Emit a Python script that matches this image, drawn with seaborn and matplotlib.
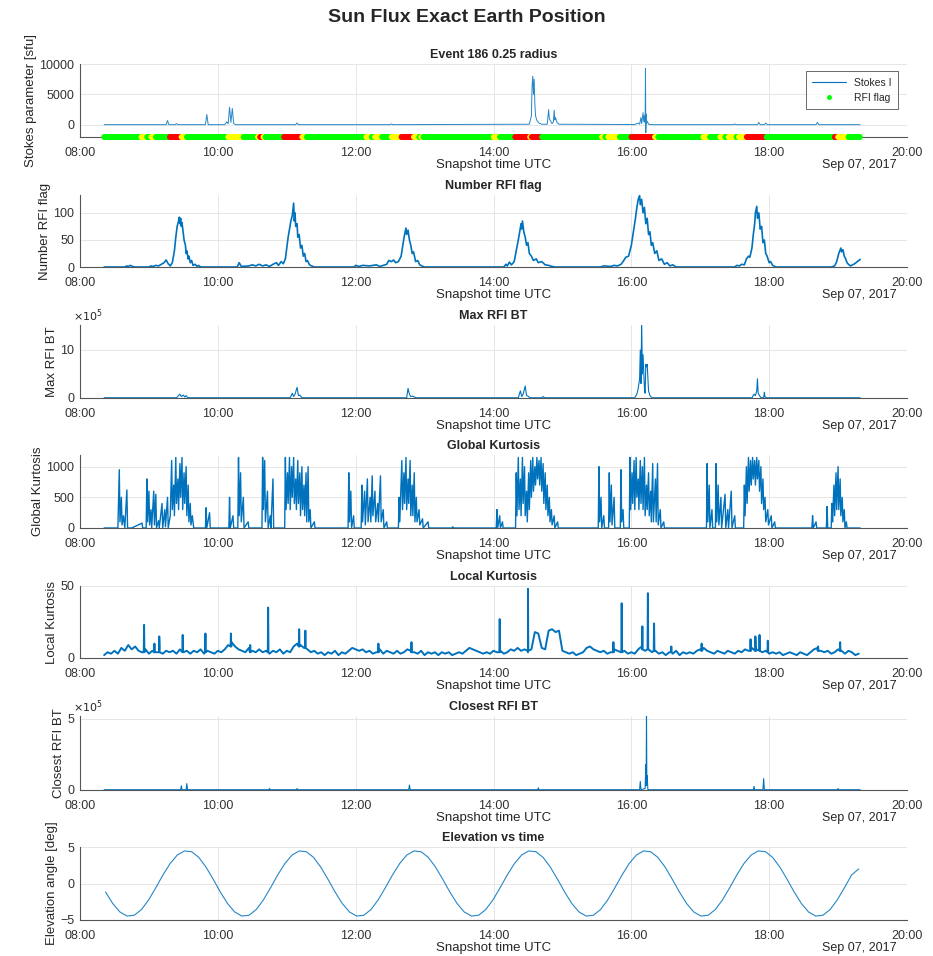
import numpy as np
import seaborn as sns
import matplotlib
matplotlib.use('Agg')
import matplotlib.pyplot as plt
from matplotlib.lines import Line2D

# time is in decimal hours UTC, Sep 07 2017
hour_ticks = [8, 10, 12, 14, 16, 18, 20]
hour_labels = ['08:00', '10:00', '12:00', '14:00', '16:00', '18:00', '20:00']

# Stokes I [sfu]
stokes = [(8.35, 30), (9.25, 30), (9.27, 700), (9.29, 30), (9.38, 30), (9.40, 200), (9.42, 30),
          (9.82, 30), (9.84, 1700), (9.86, 30), (10.10, 30), (10.13, 500), (10.15, 150), (10.17, 2900),
          (10.19, 400), (10.21, 2700), (10.23, 200), (10.26, 30), (11.13, 30), (11.15, 300), (11.17, 30),
          (12.50, 30), (12.52, 150), (12.54, 30), (14.52, 100), (14.55, 1500), (14.56, 6500), (14.57, 8000),
          (14.58, 5000), (14.59, 7500), (14.60, 3500), (14.61, 1500), (14.63, 700), (14.66, 300), (14.70, 100),
          (14.78, 100), (14.80, 2500), (14.81, 1000), (14.83, 600), (14.85, 200), (14.87, 500), (14.88, 2400),
          (14.89, 800), (14.90, 1200), (14.92, 400), (14.95, 100), (16.05, 50), (16.10, 300), (16.12, 100),
          (16.14, 1200), (16.15, 200), (16.17, 2000), (16.18, 500), (16.19, 1500), (16.20, 400), (16.205, 9300),
          (16.21, -1300), (16.215, 1800), (16.22, 300), (16.23, 600), (16.25, 100), (16.30, 30), (17.48, 30),
          (17.50, 150), (17.52, 30), (17.83, 30), (17.85, 400), (17.87, 30), (17.93, 30), (17.95, 300),
          (17.97, 30), (18.68, 30), (18.70, 400), (18.72, 30), (19.32, 30)]

# RFI flag segments (0 green elsewhere, 1 yellow, 2 red)
flag_seg_start = [8.89, 9.03, 9.30, 9.47, 10.15, 10.58, 10.61, 10.66, 10.96, 11.22, 12.15, 12.28, 12.52,
                  12.66, 12.84, 12.95, 14.00, 14.31, 14.53, 14.55, 15.57, 15.66, 16.00, 16.34, 17.04,
                  17.29, 17.41, 17.56, 17.67, 18.95, 19.00]
flag_seg_end = [8.97, 9.10, 9.47, 9.55, 10.37, 10.61, 10.66, 10.69, 11.22, 11.29, 12.23, 12.38, 12.66,
                12.84, 12.92, 12.98, 14.09, 14.53, 14.55, 14.70, 15.62, 15.83, 16.34, 16.39, 17.14,
                17.36, 17.52, 17.67, 17.96, 19.00, 19.15]
flag_seg_level = [1, 1, 2, 1, 1, 1, 2, 1, 2, 1, 1, 1, 1, 2, 1, 1, 1, 2, 1, 2, 1, 1, 2, 1, 1, 1, 1, 1, 2, 2, 1]

# Number of RFI flags
n_rfi = [(8.35, 0), (8.65, 0), (8.68, 2), (8.70, 1), (8.73, 3), (8.76, 1), (8.80, 0), (9.00, 0), (9.03, 2),
         (9.06, 1), (9.10, 3), (9.14, 2), (9.18, 5), (9.22, 8), (9.25, 13), (9.28, 6), (9.31, 2), (9.34, 8),
         (9.37, 30), (9.39, 55), (9.41, 75), (9.43, 85), (9.44, 92), (9.45, 80), (9.46, 90), (9.47, 75),
         (9.48, 82), (9.50, 60), (9.51, 50), (9.53, 40), (9.54, 25), (9.55, 30), (9.57, 15), (9.58, 20),
         (9.60, 8), (9.62, 12), (9.64, 3), (9.67, 5), (9.70, 1), (9.72, 3), (9.75, 0), (10.28, 0), (10.31, 8),
         (10.34, 1), (10.45, 2), (10.50, 4), (10.55, 2), (10.60, 5), (10.65, 2), (10.70, 4), (10.75, 1),
         (10.80, 5), (10.85, 8), (10.88, 3), (10.92, 10), (10.95, 6), (10.98, 15), (11.00, 35), (11.02, 55),
         (11.04, 70), (11.06, 85), (11.08, 95), (11.10, 118), (11.11, 85), (11.12, 100), (11.13, 75),
         (11.15, 80), (11.16, 55), (11.18, 60), (11.20, 35), (11.22, 40), (11.24, 20), (11.26, 25),
         (11.28, 10), (11.30, 12), (11.33, 4), (11.36, 2), (11.40, 0), (11.98, 0), (12.00, 3), (12.05, 1),
         (12.10, 3), (12.20, 2), (12.30, 4), (12.35, 1), (12.40, 3), (12.45, 5), (12.48, 12), (12.52, 10),
         (12.55, 13), (12.58, 8), (12.62, 10), (12.66, 20), (12.69, 45), (12.71, 60), (12.73, 72),
         (12.74, 60), (12.76, 68), (12.78, 50), (12.80, 40), (12.82, 25), (12.84, 28), (12.87, 10),
         (12.90, 12), (12.93, 4), (12.96, 2), (13.00, 0), (14.15, 0), (14.18, 5), (14.20, 2), (14.23, 9),
         (14.26, 4), (14.30, 10), (14.33, 30), (14.36, 50), (14.38, 65), (14.40, 80), (14.41, 70),
         (14.42, 85), (14.44, 65), (14.46, 55), (14.48, 40), (14.50, 45), (14.52, 25), (14.55, 20),
         (14.58, 12), (14.62, 15), (14.65, 8), (14.70, 10), (14.75, 4), (14.80, 3), (14.85, 1), (14.90, 0),
         (15.55, 0), (15.60, 2), (15.70, 1), (15.75, 3), (15.80, 2), (15.85, 5), (15.88, 10), (15.92, 18),
         (15.96, 20), (16.00, 40), (16.03, 65), (16.06, 90), (16.08, 110), (16.10, 125), (16.12, 132),
         (16.13, 115), (16.15, 125), (16.17, 100), (16.19, 110), (16.21, 80), (16.23, 90), (16.25, 60),
         (16.27, 65), (16.29, 40), (16.31, 45), (16.34, 25), (16.37, 30), (16.40, 12), (16.44, 15),
         (16.48, 5), (16.52, 8), (16.56, 2), (16.60, 4), (16.65, 0), (17.50, 0), (17.53, 3), (17.57, 2),
         (17.60, 5), (17.64, 4), (17.67, 15), (17.70, 20), (17.72, 18), (17.75, 35), (17.77, 60),
         (17.79, 80), (17.80, 100), (17.82, 112), (17.83, 90), (17.85, 100), (17.87, 70), (17.89, 75),
         (17.91, 45), (17.93, 50), (17.95, 25), (17.97, 20), (18.00, 8), (18.02, 10), (18.05, 3), (18.10, 0),
         (18.90, 0), (18.95, 2), (18.98, 10), (19.01, 25), (19.04, 35), (19.05, 28), (19.07, 32), (19.09, 20),
         (19.11, 15), (19.13, 8), (19.15, 5), (19.18, 2), (19.21, 4), (19.24, 6), (19.27, 9), (19.30, 12),
         (19.32, 14)]

# Max RFI BT, in units of 1e5
max_bt = [(8.35, 0.05), (9.40, 0.05), (9.43, 0.5), (9.45, 0.8), (9.47, 0.3), (9.50, 0.6), (9.52, 0.2),
          (9.54, 0.5), (9.56, 0.1), (9.58, 0.05), (11.05, 0.05), (11.08, 1.0), (11.10, 0.3), (11.12, 0.8),
          (11.15, 2.2), (11.17, 0.5), (11.19, 0.6), (11.22, 0.05), (12.74, 0.05), (12.76, 2.0), (12.78, 0.8),
          (12.80, 0.3), (12.83, 0.4), (12.85, 0.2), (12.88, 0.05), (14.36, 0.05), (14.39, 1.5), (14.41, 0.3),
          (14.43, 0.8), (14.46, 2.5), (14.48, 0.5), (14.50, 0.4), (14.53, 0.05), (14.70, 0.05), (14.72, 0.3),
          (14.74, 0.05), (16.05, 0.05), (16.08, 0.8), (16.10, 2.0), (16.12, 4.0), (16.13, 10.0), (16.14, 3.0),
          (16.15, 16.0), (16.16, 5.0), (16.17, 9.0), (16.19, 2.0), (16.20, 1.0), (16.21, 7.0), (16.22, 6.5),
          (16.23, 7.0), (16.25, 1.5), (16.27, 0.5), (16.30, 0.05), (17.75, 0.05), (17.78, 0.8), (17.80, 0.5),
          (17.82, 1.5), (17.83, 4.0), (17.84, 1.0), (17.86, 0.5), (17.88, 0.05), (17.92, 0.05), (17.93, 1.2),
          (17.94, 0.2), (17.96, 0.05), (19.32, 0.05)]

# Global kurtosis
g_kurt = [(8.35, 0), (8.55, 0), (8.57, 950), (8.58, 100), (8.60, 500), (8.61, 50), (8.63, 200), (8.65, 0),
          (8.68, 620), (8.69, 0), (8.75, 0), (8.90, 80), (8.91, 0), (8.96, 0), (8.97, 800), (8.98, 100),
          (9.00, 600), (9.01, 50), (9.03, 300), (9.04, 0), (9.07, 600), (9.08, 50), (9.10, 550), (9.11, 0),
          (9.14, 120), (9.15, 0), (9.19, 400), (9.20, 0), (9.23, 300), (9.24, 20), (9.27, 500), (9.28, 0),
          (9.31, 200), (9.33, 1100), (9.34, 300), (9.36, 700), (9.37, 200), (9.39, 1150), (9.40, 400),
          (9.42, 800), (9.43, 300), (9.45, 1050), (9.46, 500), (9.48, 1150), (9.49, 300), (9.51, 900),
          (9.52, 400), (9.54, 1000), (9.55, 200), (9.57, 700), (9.58, 100), (9.60, 400), (9.61, 50),
          (9.63, 200), (9.65, 0), (9.82, 0), (9.83, 330), (9.84, 0), (9.88, 250), (9.89, 0), (10.16, 0),
          (10.17, 500), (10.18, 0), (10.22, 200), (10.23, 0), (10.29, 0), (10.30, 1150), (10.31, 200),
          (10.33, 900), (10.34, 100), (10.37, 500), (10.38, 0), (10.44, 100), (10.45, 0), (10.64, 0),
          (10.65, 1150), (10.66, 300), (10.68, 1100), (10.69, 100), (10.72, 600), (10.73, 0), (10.76, 200),
          (10.77, 0), (10.80, 800), (10.81, 0), (10.97, 0), (10.98, 1150), (10.99, 300), (11.01, 900),
          (11.02, 400), (11.04, 1150), (11.05, 300), (11.07, 1000), (11.08, 500), (11.10, 1150), (11.11, 400),
          (11.13, 800), (11.14, 300), (11.16, 1100), (11.17, 400), (11.19, 900), (11.20, 200), (11.22, 1000),
          (11.23, 300), (11.25, 700), (11.26, 200), (11.28, 900), (11.29, 100), (11.31, 1000), (11.32, 100),
          (11.34, 300), (11.35, 0), (11.40, 100), (11.41, 0), (11.89, 0), (11.90, 900), (11.91, 100),
          (11.93, 600), (11.94, 0), (11.97, 200), (11.98, 0), (12.08, 0), (12.09, 700), (12.10, 100),
          (12.13, 600), (12.14, 50), (12.17, 800), (12.18, 100), (12.21, 500), (12.22, 100), (12.24, 850),
          (12.25, 200), (12.28, 600), (12.29, 100), (12.32, 400), (12.33, 100), (12.36, 850), (12.37, 100),
          (12.40, 300), (12.41, 0), (12.45, 100), (12.46, 0), (12.62, 0), (12.63, 500), (12.64, 100),
          (12.67, 1100), (12.68, 300), (12.70, 900), (12.71, 400), (12.73, 1150), (12.74, 300), (12.76, 800),
          (12.77, 400), (12.79, 1100), (12.80, 200), (12.82, 700), (12.83, 200), (12.85, 900), (12.86, 100),
          (12.88, 500), (12.89, 100), (12.92, 300), (12.93, 50), (12.97, 150), (12.98, 0), (13.05, 100),
          (13.06, 0), (13.40, 0), (13.41, 20), (13.42, 0), (14.04, 0), (14.05, 300), (14.06, 0), (14.09, 200),
          (14.10, 0), (14.13, 100), (14.14, 0), (14.32, 0), (14.33, 900), (14.34, 200), (14.36, 1150),
          (14.37, 300), (14.39, 800), (14.40, 200), (14.42, 1150), (14.43, 400), (14.45, 1000), (14.46, 200),
          (14.48, 600), (14.49, 100), (14.51, 900), (14.52, 300), (14.54, 1100), (14.55, 500), (14.57, 1150),
          (14.58, 600), (14.60, 1000), (14.61, 700), (14.63, 1150), (14.64, 800), (14.66, 1100), (14.67, 700),
          (14.69, 1150), (14.70, 600), (14.72, 1050), (14.73, 400), (14.75, 900), (14.76, 300), (14.78, 700),
          (14.79, 200), (14.81, 500), (14.82, 100), (14.84, 300), (14.85, 50), (14.88, 200), (14.89, 0),
          (14.93, 100), (14.94, 0), (15.52, 0), (15.53, 1000), (15.54, 100), (15.56, 500), (15.57, 0),
          (15.60, 200), (15.61, 0), (15.67, 0), (15.68, 900), (15.69, 100), (15.71, 700), (15.72, 50),
          (15.75, 500), (15.76, 0), (15.84, 0), (15.85, 950), (15.86, 100), (15.88, 300), (15.89, 0),
          (15.97, 0), (15.98, 1150), (15.99, 300), (16.01, 900), (16.02, 400), (16.04, 1100), (16.05, 300),
          (16.07, 1150), (16.08, 500), (16.10, 800), (16.11, 300), (16.13, 1100), (16.14, 400), (16.16, 1000),
          (16.17, 300), (16.19, 1150), (16.20, 200), (16.22, 700), (16.23, 300), (16.25, 900), (16.26, 200),
          (16.28, 600), (16.29, 100), (16.31, 1050), (16.32, 100), (16.35, 800), (16.36, 100), (16.38, 1050),
          (16.39, 50), (16.42, 300), (16.43, 0), (16.47, 100), (16.48, 0), (17.09, 0), (17.10, 1050),
          (17.11, 100), (17.13, 700), (17.14, 0), (17.17, 300), (17.18, 0), (17.22, 0), (17.23, 1050),
          (17.24, 100), (17.26, 700), (17.27, 50), (17.30, 500), (17.31, 0), (17.36, 550), (17.37, 0),
          (17.40, 300), (17.41, 0), (17.45, 600), (17.46, 0), (17.50, 200), (17.51, 0), (17.63, 0),
          (17.64, 700), (17.65, 200), (17.67, 1000), (17.68, 400), (17.70, 1150), (17.71, 600), (17.73, 1100),
          (17.74, 700), (17.76, 1150), (17.77, 800), (17.79, 1100), (17.80, 700), (17.82, 1150), (17.83, 800),
          (17.85, 1100), (17.86, 600), (17.88, 1000), (17.89, 400), (17.91, 800), (17.92, 300), (17.94, 500),
          (17.95, 100), (17.98, 300), (17.99, 50), (18.03, 200), (18.04, 0), (18.08, 100), (18.09, 0),
          (18.62, 0), (18.63, 200), (18.64, 0), (18.68, 100), (18.69, 0), (18.83, 0), (18.84, 350),
          (18.85, 0), (18.90, 0), (18.91, 400), (18.92, 100), (18.94, 700), (18.95, 200), (18.97, 900),
          (18.98, 300), (19.00, 1000), (19.01, 300), (19.03, 800), (19.04, 200), (19.06, 500), (19.07, 100),
          (19.09, 300), (19.10, 0), (19.12, 100), (19.13, 0), (19.32, 0)]

# Local kurtosis: background every 3 min from 08:21 to 19:18, plus narrow spikes
l_kurt_base = [2, 4, 3, 5, 3, 7, 5, 9, 6, 8, 5, 4, 6, 3, 5, 4, 6, 3, 5, 4, 5, 3, 6, 4, 5, 3, 5, 4, 6, 3,
               5, 4, 3, 5, 4, 6, 9, 11, 8, 6, 5, 4, 7, 5, 4, 6, 4, 5, 3, 5, 4, 6, 3, 5, 4, 8, 10, 9, 7, 6,
               4, 5, 3, 4, 2, 4, 3, 5, 2, 4, 3, 5, 7, 6, 5, 6, 4, 5, 3, 4, 6, 3, 5, 4, 3, 5, 3, 4, 6, 5,
               4, 3, 5, 2, 4, 3, 4, 2, 4, 3, 4, 2, 3, 4, 3, 5, 7, 6, 5, 4, 3, 4, 3, 5, 4, 5, 3, 4, 6, 5,
               7, 5, 6, 4, 6, 18, 17, 7, 6, 19, 20, 18, 19, 5, 4, 3, 4, 2, 3, 4, 7, 8, 6, 5, 4, 5, 3, 4, 6, 5,
               4, 5, 3, 4, 3, 6, 8, 5, 6, 4, 5, 3, 4, 2, 4, 3, 5, 2, 4, 3, 4, 3, 5, 6, 7, 5, 4, 3, 5, 4,
               3, 5, 4, 3, 5, 4, 6, 5, 7, 5, 6, 4, 5, 3, 4, 3, 4, 2, 3, 4, 3, 2, 4, 3, 2, 4, 6, 7, 5, 4,
               5, 3, 4, 6, 5, 3, 5, 4, 2, 3]
l_kurt_base_t = np.linspace(8.35, 19.30, len(l_kurt_base))
l_kurt_spikes = [(8.925, 4), (8.93, 23), (8.935, 4), (9.075, 4), (9.08, 10), (9.085, 4), (9.145, 4),
                 (9.15, 15), (9.155, 4), (9.485, 4), (9.49, 16), (9.495, 4), (9.815, 4), (9.82, 17),
                 (9.825, 4), (10.185, 8), (10.19, 17), (10.195, 8), (10.465, 4), (10.47, 9), (10.475, 4),
                 (10.725, 4), (10.73, 35), (10.735, 4), (11.175, 8), (11.18, 20), (11.185, 8), (11.265, 7),
                 (11.27, 19), (11.275, 7), (12.325, 4), (12.33, 10), (12.335, 4), (12.805, 4), (12.81, 11),
                 (12.815, 4), (14.085, 4), (14.09, 27), (14.095, 4), (14.495, 5), (14.50, 48), (14.505, 5),
                 (15.735, 4), (15.74, 11), (15.745, 4), (15.855, 4), (15.86, 38), (15.865, 4), (16.155, 6),
                 (16.16, 22), (16.165, 6), (16.235, 6), (16.24, 45), (16.245, 6), (16.325, 5), (16.33, 24),
                 (16.335, 5), (16.575, 4), (16.58, 8), (16.585, 4), (17.015, 5), (17.02, 10), (17.025, 5),
                 (17.725, 5), (17.73, 13), (17.735, 5), (17.795, 5), (17.80, 15), (17.805, 5), (17.855, 5),
                 (17.86, 16), (17.865, 5), (17.975, 4), (17.98, 12), (17.985, 4), (18.705, 5), (18.71, 8),
                 (18.715, 5), (19.025, 5), (19.03, 11), (19.035, 5)]

# Closest RFI BT, in units of 1e5
closest_bt = [(8.35, 0.02), (9.46, 0.02), (9.47, 0.3), (9.48, 0.02), (9.54, 0.02), (9.55, 0.45),
              (9.56, 0.02), (10.74, 0.02), (10.75, 0.1), (10.76, 0.02), (11.14, 0.02), (11.15, 0.1),
              (11.16, 0.02), (12.77, 0.02), (12.78, 0.35), (12.79, 0.02), (14.64, 0.02), (14.65, 0.15),
              (14.66, 0.02), (16.12, 0.02), (16.13, 0.6), (16.14, 0.02), (16.20, 0.1), (16.21, 1.8),
              (16.215, 0.3), (16.22, 5.2), (16.225, 0.5), (16.23, 1.0), (16.24, 0.02), (17.77, 0.02),
              (17.78, 0.25), (17.79, 0.02), (17.91, 0.02), (17.92, 0.8), (17.93, 0.02), (18.99, 0.02),
              (19.00, 0.1), (19.01, 0.02), (19.32, 0.02)]

# Elevation angle [deg], sampled every ~6.3 min
elevation = [-1.17, -2.74, -3.90, -4.46, -4.35, -3.57, -2.25, -0.59, 1.17, 2.74, 3.90, 4.46, 4.35, 3.57, 2.25, 0.59,
             -1.17, -2.74, -3.90, -4.46, -4.35, -3.57, -2.25, -0.59, 1.17, 2.74, 3.90, 4.46, 4.35, 3.57, 2.25, 0.59,
             -1.17, -2.74, -3.90, -4.46, -4.35, -3.57, -2.25, -0.59, 1.17, 2.74, 3.90, 4.46, 4.35, 3.57, 2.25, 0.59,
             -1.17, -2.74, -3.90, -4.46, -4.35, -3.57, -2.25, -0.59, 1.17, 2.74, 3.90, 4.46, 4.35, 3.57, 2.25, 0.59,
             -1.17, -2.74, -3.90, -4.46, -4.35, -3.57, -2.25, -0.59, 1.17, 2.74, 3.90, 4.46, 4.35, 3.57, 2.25, 0.59,
             -1.17, -2.74, -3.90, -4.46, -4.35, -3.57, -2.25, -0.59, 1.17, 2.74, 3.90, 4.46, 4.35, 3.57, 2.25, 0.59,
             -1.17, -2.74, -3.90, -4.46, -4.35, -3.57, -2.25, -0.59, 1.17, 2.0]
elevation_t = np.linspace(8.371, 19.30, len(elevation))

blue = '#0072BD'
flag_colors = {0: '#00FF00', 1: '#FFFF00', 2: '#FF0000'}

sns.set_theme(style='white')
plt.rcParams['font.family'] = ['Liberation Sans', 'DejaVu Sans']

fig = plt.figure(figsize=(9.33, 9.56), dpi=100)
panel_px = [(64, 137), (195, 267), (325, 398), (455, 528), (586, 658), (716, 790), (847, 920)]
axes = [fig.add_axes([80 / 933, 1 - b / 956, 827 / 933, (b - t) / 956]) for t, b in panel_px]

fig.text(0.5, 1 - 18 / 956, 'Sun Flux Exact Earth Position', ha='center', va='center',
         fontsize=14, fontweight='bold')


def line(ax, pts, lw=0.8, alpha=1.0):
    t, v = zip(*pts)
    sns.lineplot(x=list(t), y=list(v), ax=ax, color=blue, linewidth=lw, alpha=alpha,
                 estimator=None, sort=False)


def style(ax, title, ylabel, ylim, yticks, exponent=False):
    ax.set_xlim(8, 20)
    ax.set_xticks(hour_ticks)
    ax.set_xticklabels(hour_labels)
    ax.set_ylim(ylim)
    ax.set_yticks(yticks)
    ax.grid(True, color='#e2e2e2', linewidth=0.6)
    ax.set_axisbelow(True)
    for s in ['top', 'right']:
        ax.spines[s].set_visible(False)
    for s in ['left', 'bottom']:
        ax.spines[s].set_color('#555555')
        ax.spines[s].set_linewidth(0.8)
    ax.tick_params(axis='both', direction='in', length=4, width=0.8, color='#555555',
                   labelcolor='#333333', labelsize=9)
    ax.tick_params(axis='x', pad=7)
    ax.tick_params(axis='y', pad=4)
    ax.set_title(title, fontsize=9, fontweight='bold', pad=4)
    ax.set_ylabel(ylabel, fontsize=9.5, color='#262626', labelpad=2)
    ax.set_xlabel('Snapshot time UTC', fontsize=9.5, color='#262626', labelpad=0)
    ax.annotate('Sep 07, 2017', xy=(1, 0), xycoords='axes fraction', xytext=(-10, -28),
                textcoords='offset pixels', ha='right', va='center', fontsize=9, color='#262626')
    if exponent:
        ax.text(-0.008, 1.01, r'$\times10^5$', transform=ax.transAxes, ha='left', va='bottom',
                fontsize=8, color='#262626')


# 1: Stokes I with RFI flags
ax = axes[0]
line(ax, stokes, lw=0.7, alpha=0.85)
flag_t = np.round(np.arange(8.35, 19.32, 0.006), 3)
flag_lvl = np.zeros(len(flag_t), dtype=int)
for s, e, lv in zip(flag_seg_start, flag_seg_end, flag_seg_level):
    flag_lvl[(flag_t >= s) & (flag_t < e)] = lv
sns.scatterplot(x=flag_t, y=np.full(len(flag_t), -2000.0), hue=flag_lvl, palette=flag_colors,
                s=16, linewidth=0, legend=False, ax=ax, clip_on=False, zorder=4)
style(ax, 'Event 186 0.25 radius', 'Stokes parameter [sfu]', (-2000, 10000), [0, 5000, 10000])
handles = [Line2D([0], [0], color=blue, lw=0.8),
           Line2D([0], [0], color='#00FF00', marker='.', linestyle='none', markersize=5)]
leg = ax.legend(handles, ['Stokes I', 'RFI flag'], loc='upper right', fontsize=7.5, frameon=True,
                fancybox=False, edgecolor='#262626', borderpad=0.6, handlelength=3.2,
                bbox_to_anchor=(0.995, 0.97))
leg.get_frame().set_linewidth(0.6)

# 2: number of RFI flags
line(axes[1], n_rfi, lw=1.2)
style(axes[1], 'Number RFI flag', 'Number RFI flag', (0, 133), [0, 50, 100])

# 3: max RFI BT
line(axes[2], max_bt, lw=0.8)
style(axes[2], 'Max RFI BT', 'Max RFI BT', (0, 15.2), [0, 10], exponent=True)

# 4: global kurtosis
line(axes[3], g_kurt, lw=1.0)
style(axes[3], 'Global Kurtosis', 'Global Kurtosis', (0, 1190), [0, 500, 1000])

# 5: local kurtosis
lk = sorted(list(zip(l_kurt_base_t, l_kurt_base)) + l_kurt_spikes)
line(axes[4], lk, lw=1.4)
style(axes[4], 'Local Kurtosis', 'Local Kurtosis', (0, 50), [0, 50])

# 6: closest RFI BT
line(axes[5], closest_bt, lw=0.8)
style(axes[5], 'Closest RFI BT', 'Closest RFI BT', (0, 5.2), [0, 5], exponent=True)

# 7: elevation
line(axes[6], list(zip(elevation_t, elevation)), lw=0.8, alpha=0.85)
style(axes[6], 'Elevation vs time', 'Elevation angle [deg]', (-5, 5), [-5, 0, 5])

fig.savefig('out.png', dpi=100)
